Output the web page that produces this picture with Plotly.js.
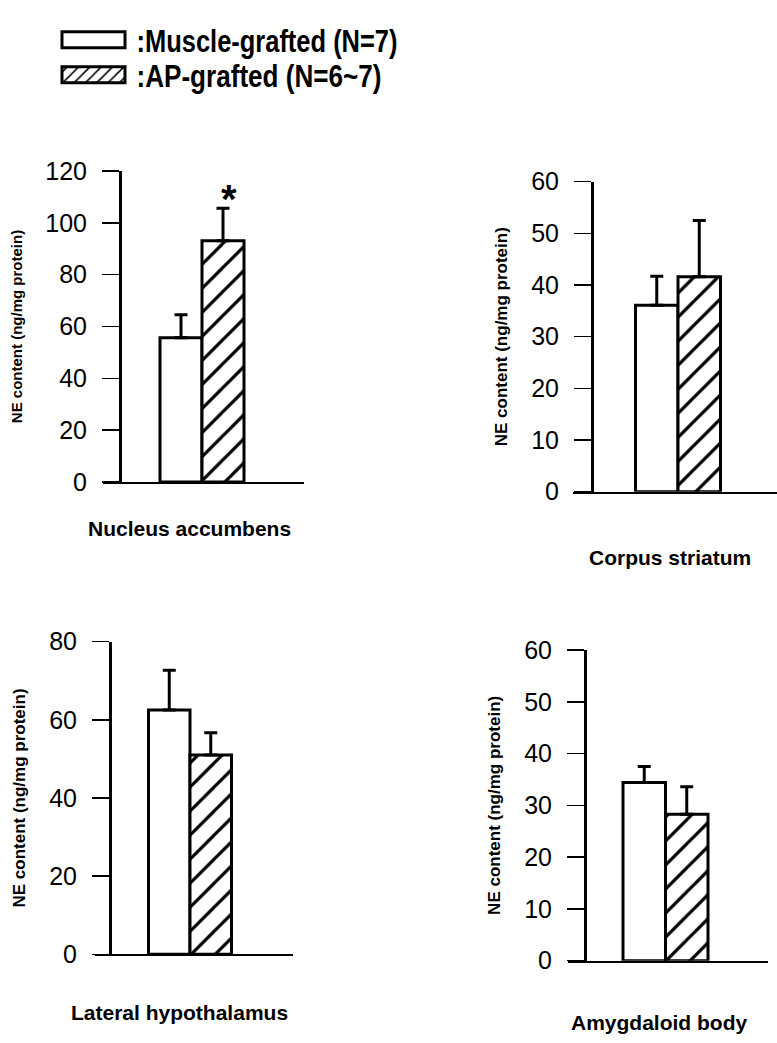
<!DOCTYPE html>
<html><head><meta charset="utf-8">
<script src="https://cdn.plot.ly/plotly-3.0.1.min.js"></script>
<style>body{margin:0;background:#fff}</style>
</head><body><div id="chart" style="width:777px;height:1043px"></div>
<script>
// ---- data ----
const regions = ["Nucleus accumbens", "Corpus striatum", "Lateral hypothalamus", "Amygdaloid body"];
const seriesNames = [":Muscle-grafted (N=7)", ":AP-grafted (N=6~7)"];
const muscleMean = [55.7, 36.1, 62.5, 34.4];
const muscleSEM  = [8.8, 5.6, 10.2, 3.1];
const apMean     = [93.1, 41.6, 51.0, 28.3];
const apSEM      = [12.5, 10.9, 5.7, 5.3];
const yMax   = [120, 60, 80, 60];
const yDtick = [20, 10, 20, 10];
const significance = ["*", "", "", ""];
const yTitle = "NE content (ng/mg protein)";

// ---- layout geometry (pixels) ----
const W = 777, H = 1043;
const geo = [
  {xL:103, xR:304, yAx:120, y0:482,   yTop:171,   c:202,   gw:84, tSize:15, lx:189, ly:528},
  {xL:573, xR:777, yAx:592, y0:491.7, yTop:181.7, c:678,   gw:85, tSize:17, lx:670, ly:557},
  {xL:95,  xR:293, yAx:110, y0:954.3, yTop:641.7, c:190,   gw:83, tSize:17, lx:179, ly:1012},
  {xL:568, xR:768, yAx:585, y0:960.7, yTop:650,   c:665.5, gw:85, tSize:17, lx:659, ly:1022}
];
const legendTextWidths = [261, 245];
const bargap = 0.5;
const FONT = "Liberation Sans, Arial, sans-serif";

const data = [];
const legendStyle = (yPx) => ({
  x: 50.5 / W, y: 1 - yPx / H, xanchor: "left", yanchor: "middle", itemwidth: 76,
  bgcolor: "rgba(0,0,0,0)", borderwidth: 0,
  font: {family: FONT, size: 31, weight: "bold", color: "black"}
});
const layout = {
  width: W, height: H, margin: {l:0, r:0, t:0, b:0},
  paper_bgcolor: "white", plot_bgcolor: "rgba(0,0,0,0)",
  barmode: "group", bargap: bargap, bargroupgap: 0,
  showlegend: true,
  font: {family: FONT, color: "black"},
  annotations: [],
  legend: legendStyle(40),
  legend2: legendStyle(75)
};

regions.forEach((reg, i) => {
  const g = geo[i];
  const sfx = i === 0 ? "" : String(i + 1);
  const ppu = g.gw / (1 - bargap);
  const errStyle = {type: "data", symmetric: false, color: "black", thickness: 3, width: 6.5};
  data.push({
    type: "bar", x: [reg], y: [muscleMean[i]], name: seriesNames[0],
    xaxis: "x" + sfx, yaxis: "y" + sfx, legend: "legend", legendgroup: "m", showlegend: i === 0,
    marker: {color: "white", line: {color: "black", width: 3}},
    error_y: Object.assign({array: [muscleSEM[i]], arrayminus: [0]}, errStyle)
  });
  data.push({
    type: "bar", x: [reg], y: [apMean[i]], name: seriesNames[1],
    xaxis: "x" + sfx, yaxis: "y" + sfx, legend: "legend2", legendgroup: "a", showlegend: i === 0,
    marker: {color: "white", line: {color: "black", width: 3},
             pattern: {shape: "/", fgcolor: "black", bgcolor: "white", size: 17, solidity: 0.19}},
    error_y: Object.assign({array: [apSEM[i]], arrayminus: [0]}, errStyle)
  });
  layout["xaxis" + sfx] = {
    type: "category", domain: [g.xL / W, g.xR / W], anchor: "y" + sfx,
    range: [-(g.c - g.xL) / ppu, (g.xR - g.c) / ppu],
    showline: true, linecolor: "black", linewidth: 2, ticks: "", showticklabels: false,
    showgrid: false, zeroline: false
  };
  layout["yaxis" + sfx] = {
    domain: [1 - g.y0 / H, 1 - g.yTop / H], anchor: "free", position: g.yAx / W,
    range: [0, yMax[i]], dtick: yDtick[i], tick0: 0,
    showline: true, linecolor: "black", linewidth: 3,
    ticks: "outside", ticklen: 17, tickwidth: 1.5, tickcolor: "black",
    ticklabelstandoff: 10,
    tickfont: {family: FONT, size: 25, color: "black"},
    showgrid: false, zeroline: false,
    title: {text: yTitle, standoff: 18, font: {family: FONT, size: g.tSize, weight: "bold", color: "black"}}
  };
  layout.annotations.push({
    xref: "paper", yref: "paper", x: g.lx / W, y: 1 - g.ly / H, xanchor: "center", yanchor: "middle",
    text: reg, showarrow: false, font: {family: FONT, size: 21, weight: "bold", color: "black"}
  });
  if (significance[i]) {
    layout.annotations.push({
      xref: "x" + sfx, yref: "y" + sfx, x: reg, y: apMean[i] + apSEM[i],
      xanchor: "center", yanchor: "middle", xshift: 27, yshift: 9,
      text: significance[i], showarrow: false,
      font: {family: FONT, size: 40, weight: "bold", color: "black"}
    });
  }
});

const chartDiv = document.getElementById("chart");
const SYM = "M31.5,8H-31.5V-8H31.5Z";
function fixLegend() {
  chartDiv.querySelectorAll(".legendsymbols path").forEach(p => {
    if (p.getAttribute("d") !== SYM) p.setAttribute("d", SYM);
    if (p.style.strokeWidth !== "3px") p.style.strokeWidth = "3px";
  });
  chartDiv.querySelectorAll("text").forEach(t => {
    const s = (t.textContent || "");
    const k = s.indexOf("AP") >= 0 && s.indexOf("grafted") >= 0 ? 1 :
              (s.indexOf("Muscle") >= 0 ? 0 : -1);
    if (k >= 0 && t.getAttribute("textLength") !== String(legendTextWidths[k])) {
      t.setAttribute("textLength", String(legendTextWidths[k]));
      t.setAttribute("lengthAdjust", "spacingAndGlyphs");
    }
  });
}
new MutationObserver(fixLegend).observe(chartDiv, {childList: true, subtree: true, attributes: true, characterData: true});

Plotly.newPlot(chartDiv, data, layout, {staticPlot: true, displayModeBar: false}).then(() => {
  fixLegend();
  setTimeout(fixLegend, 30);
});
</script>
</body></html>
